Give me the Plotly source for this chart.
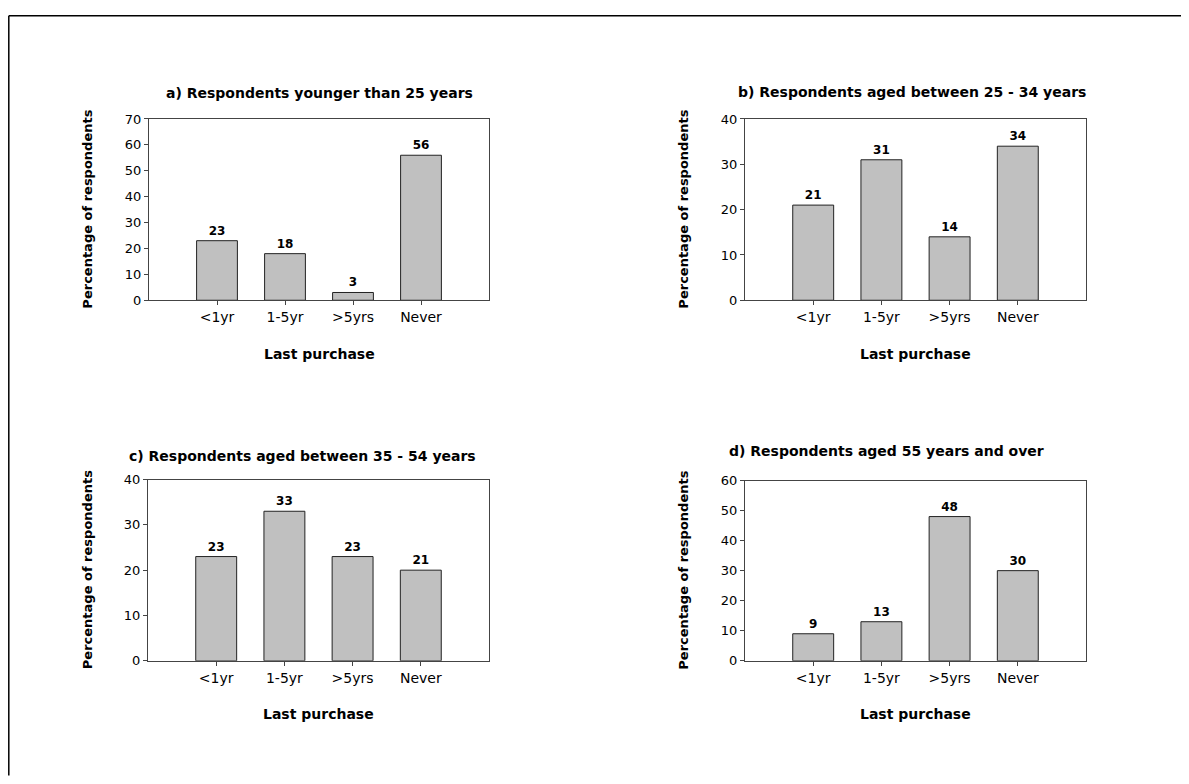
import plotly.graph_objects as go

categories = ["<1yr", "1-5yr", ">5yrs", "Never"]

titles = [
    "a) Respondents younger than 25 years",
    "b) Respondents aged between 25 - 34 years",
    "c) Respondents aged between 35 - 54 years",
    "d) Respondents aged 55 years and over",
]

values_a = [23, 18, 3, 56]
values_b = [21, 31, 14, 34]
values_c = [23, 33, 23, 20]
values_d = [9, 13, 48, 30]

labels_a = ["23", "18", "3", "56"]
labels_b = ["21", "31", "14", "34"]
labels_c = ["23", "33", "23", "21"]
labels_d = ["9", "13", "48", "30"]

y_max = [70, 40, 40, 60]

y_title = "Percentage of respondents"
x_title = "Last purchase"

# page body has an 8px margin, so the figure is sized to fit inside the window
OFF = 8
W, H = 1189 - 2 * OFF, 784 - 2 * OFF
VS = 784 / 792  # measured vertical scale of the captured page
FONT = "DejaVu Sans"

# plot-area boxes in window pixels: (left, right, top, bottom)
boxes = [
    (149, 489, 113, 296),
    (745, 1086, 113, 296),
    (148, 489, 477, 660),
    (745, 1086, 478, 660),
]
title_pos = [(319, 87), (912, 86), (302, 453), (886, 448)]


def px(x):
    return (x - OFF) / W


def py(y):
    return 1 - ((y - OFF) / VS) / H


fig = go.Figure()
series = [values_a, values_b, values_c, values_d]
labels = [labels_a, labels_b, labels_c, labels_d]

annotations = []
for i in range(4):
    xa = "x" if i == 0 else f"x{i+1}"
    ya = "y" if i == 0 else f"y{i+1}"
    fig.add_trace(go.Bar(
        x=categories, y=series[i], text=labels[i],
        textposition="outside", cliponaxis=False,
        textfont=dict(family=FONT, size=12, color="#000000", weight="bold"),
        marker=dict(color="#C0C0C0", line=dict(color="#222222", width=1)),
        width=0.6, xaxis=xa, yaxis=ya, showlegend=False,
        hoverinfo="x+y",
    ))
    l, r, t, b = boxes[i]
    key = "" if i == 0 else str(i + 1)
    fig.layout["xaxis" + key] = dict(
        domain=[px(l), px(r)], anchor=ya, type="category",
        range=[-1, 4], showline=True, mirror=True, linecolor="#444444",
        linewidth=1, ticks="outside", ticklen=4, tickcolor="#444444",
        showgrid=False, zeroline=False,
        tickfont=dict(family=FONT, size=14, color="#000000"),
        fixedrange=True,
    )
    fig.layout["yaxis" + key] = dict(
        domain=[py(b), py(t)], anchor=xa,
        range=[0, y_max[i]], dtick=10, showline=True, mirror=True,
        linecolor="#444444", linewidth=1, ticks="outside", ticklen=4,
        tickcolor="#444444", showgrid=False, zeroline=False,
        tickfont=dict(family=FONT, size=13, color="#000000"),
        fixedrange=True,
    )
    tx, ty = title_pos[i]
    annotations.append(dict(
        text=titles[i], x=px(tx), y=py(ty), xref="paper", yref="paper",
        xanchor="center", yanchor="middle", showarrow=False,
        font=dict(family=FONT, size=14, color="#000000", weight="bold"),
    ))
    annotations.append(dict(
        text=x_title, x=px((l + r) / 2), y=py(b + 54), xref="paper", yref="paper",
        xanchor="center", yanchor="middle", showarrow=False,
        font=dict(family=FONT, size=14, color="#000000", weight="bold"),
    ))
    annotations.append(dict(
        text=y_title, x=px(l - 61), y=py((t + b) / 2), xref="paper", yref="paper",
        xanchor="center", yanchor="middle", showarrow=False, textangle=-90,
        font=dict(family=FONT, size=13, color="#000000", weight="bold"),
    ))

shapes = [
    dict(type="line", xref="paper", yref="paper", x0=0.8 / W, x1=1.01, y0=1 - 0.8 / H, y1=1 - 0.8 / H,
         line=dict(color="#000000", width=1.5)),
    dict(type="line", xref="paper", yref="paper", x0=0.8 / W, x1=0.8 / W, y0=1 - 0.8 / H, y1=-0.01,
         line=dict(color="#000000", width=1.5)),
]

fig.update_layout(
    width=W, height=H, margin=dict(l=0, r=0, t=0, b=0),
    paper_bgcolor="white", plot_bgcolor="white",
    annotations=annotations, shapes=shapes, bargap=0.4,
    font=dict(family=FONT, color="#000000"),
)

fig.write_html("out.html")
